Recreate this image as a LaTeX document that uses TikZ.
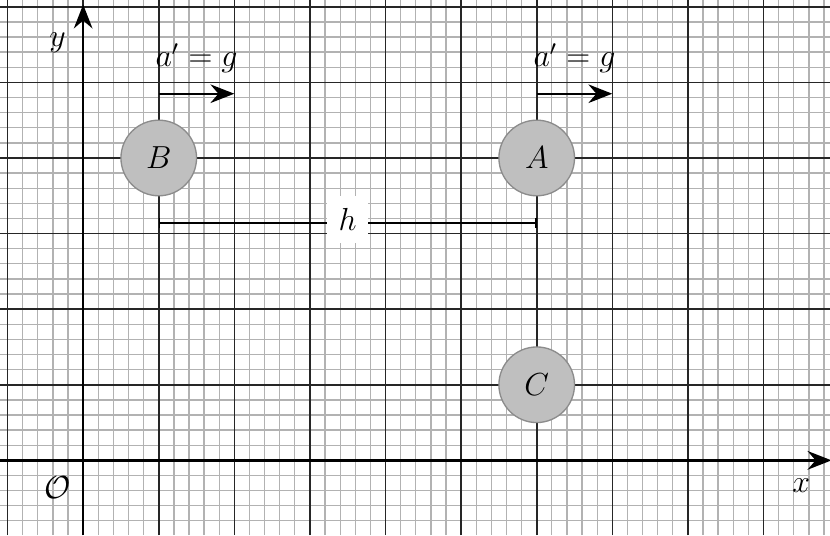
\documentclass[tikz,border=0pt]{standalone}
\usetikzlibrary{
  arrows.meta,   % Stealth and Bar tips
  positioning    % above/below of nodes
}
\tikzset{
    minor/.style = {draw=gray!60, line width=0.5pt},
    major/.style = {draw=black!85, line width=0.6pt},
    axis/.style = {draw, line width=1pt, -{Stealth[length=9pt,width=7pt,inset=3pt]}},
    accel/.style = {draw, line width=0.8pt, -{Stealth[length=9pt,width=7pt,inset=3pt]}},
    ball/.style = {circle, minimum size=1cm, inner sep=0pt, fill=black!25, draw=black!45, line width=0.5pt, font=\large},
    dim/.style = {draw, line width=0.6pt, {Bar[width=4pt]}-{Bar[width=4pt]}},
    dimlabel/.style = {fill=white, minimum width=0.54cm, minimum height=0.62cm, inner sep=0pt, font=\large},
    lbl/.style = {inner sep=1pt, font=\large}
}

\begin{document}
\begin{tikzpicture}

  \useasboundingbox (-1.1,-0.99) rectangle (9.88,6.09);
  \fill[white] (-1.1,-0.99) rectangle (9.88,6.09);

  %% graph paper
  \begin{scope}
    \clip (-1.1,-0.99) rectangle (9.88,6.09);
    \draw[minor] (-1.1,-0.99) grid[step=0.2] (9.88,6.09);
    \draw[major] (-1.1,-0.99) grid[step=1] (9.88,6.09);
  \end{scope}

  %% axes
  \coordinate (O) at (0,0);
  \coordinate (xend) at (9.9,0);
  \coordinate (xstart) at (-1.1,0);
  \coordinate (yend) at (0,6.03);
  \coordinate (ystart) at (0,-0.99);
  \draw[axis] (xstart) -- (xend);
  \draw[axis] (ystart) -- (yend);
  \node[lbl] (xlabel) at (9.5,-0.34) {$x$};
  \node[lbl] (ylabel) at (-0.34,5.52) {$y$};
  \node[lbl] (Olabel) at (-0.34,-0.36) {$\mathcal{O}$};

  %% distance between the balls
  \coordinate (hL) at (1,3.14);
  \coordinate (hR) at (6,3.14);
  \draw[dim] (hL) -- (hR)
    node [midway, dimlabel, yshift=0.05cm] (h) {$h$};

  %% balls
  \node[ball] (B) at (1,4) {$B$};
  \node[ball] (A) at (6,4) {$A$};
  \node[ball] (C) at (6,1) {$C$};

  %% accelerations
  \coordinate (aB) at (1,4.85);
  \coordinate (aBend) at (2,4.85);
  \draw[accel] (aB) -- (aBend);
  \node[lbl] (aBlabel) at (1.5,5.32) {$a' = g$};

  \coordinate (aA) at (6,4.85);
  \coordinate (aAend) at (7,4.85);
  \draw[accel] (aA) -- (aAend);
  \node[lbl] (aAlabel) at (6.5,5.32) {$a' = g$};

\end{tikzpicture}
\end{document}
